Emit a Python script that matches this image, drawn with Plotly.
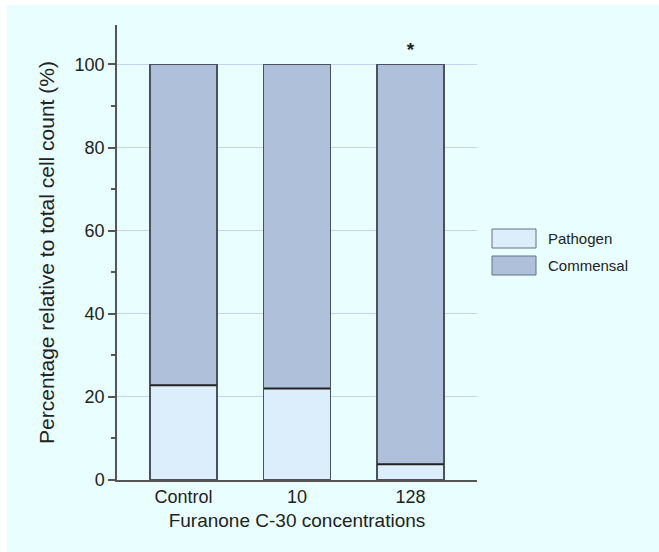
import plotly.graph_objects as go

categories = ["Control", "10", "128"]
pathogen = [22.8, 22.0, 3.8]
commensal = [100 - v for v in pathogen]
series_names = ["Pathogen", "Commensal"]
y_ticks = [0, 20, 40, 60, 80, 100]
sig_category = "128"
sig_value = 103.3

W, H = 659, 552
L, R, T, B = 117, 182, 25, 72
pw, ph = W - L - R, H - T - B

def px_x(x):
    return (x - L) / pw

def px_y(y):
    return (H - B - y) / ph

outline = "#4a5262"
c_path = "#DCEEFB"
c_comm = "#AFC0DA"
bg = "#E9FEFF"
font_fam = "Liberation Sans, Arial, sans-serif"

fig = go.Figure()
fig.add_trace(go.Bar(x=categories, y=pathogen, name=series_names[0], width=0.59,
                     marker=dict(color=c_path, line=dict(color=outline, width=1.3)),
                     showlegend=False))
fig.add_trace(go.Bar(x=categories, y=commensal, name=series_names[1], width=0.59,
                     marker=dict(color=c_comm, line=dict(color=outline, width=1.3)),
                     showlegend=False))
# dark divider between the two stacked segments
fig.add_trace(go.Scatter(x=categories, y=pathogen, mode="markers", showlegend=False,
                         hoverinfo="skip",
                         marker=dict(symbol="line-ew", size=47.5,
                                     line=dict(color="#222", width=2))))

# significance marker
fig.add_trace(go.Scatter(x=[sig_category], y=[sig_value], mode="text", text=["<b>*</b>"],
                         textposition="middle center", showlegend=False, hoverinfo="skip",
                         textfont=dict(size=19, color="#222", family=font_fam)))

shapes = [dict(type="rect", xref="paper", yref="paper", layer="below",
               x0=px_x(7), x1=px_x(W + 5), y0=px_y(H + 5), y1=px_y(5),
               fillcolor=bg, line=dict(width=0))]

# custom legend
leg_items = [(series_names[0], c_path, 229), (series_names[1], c_comm, 256)]
for name, col, top in leg_items:
    shapes.append(dict(type="rect", xref="paper", yref="paper",
                       x0=px_x(492), x1=px_x(536), y0=px_y(top + 19), y1=px_y(top),
                       fillcolor=col, line=dict(color="#6a7080", width=1)))
    fig.add_annotation(xref="paper", yref="paper", x=px_x(546), y=px_y(top + 9.5),
                       text=name, showarrow=False, xanchor="left", yanchor="middle",
                       font=dict(size=15, color="#222", family=font_fam))

fig.update_layout(
    width=W, height=H,
    margin=dict(l=L, r=R, t=T, b=B),
    barmode="stack",
    paper_bgcolor="white",
    plot_bgcolor="rgba(0,0,0,0)",
    shapes=shapes,
    font=dict(family=font_fam, color="#222"),
    showlegend=False,
)
fig.update_xaxes(type="category", range=[-0.586, 2.586], showline=True, linecolor="#555", linewidth=1.5,
                 ticks="", tickfont=dict(size=18), showgrid=False,
                 title=dict(text="Furanone C-30 concentrations", font=dict(size=19), standoff=7))
fig.update_yaxes(range=[0, 109.5], tickvals=y_ticks, showline=True, linecolor="#555",
                 linewidth=1.5, ticks="outside", ticklen=7, tickcolor="#555", tickwidth=1.5,
                 tickfont=dict(size=18), showgrid=True, gridcolor="#C5D3F5", gridwidth=1.2,
                 zeroline=False,
                 minor=dict(ticks="outside", ticklen=4, dtick=10, tickcolor="#555", showgrid=False),
                 title=dict(text="Percentage relative to total cell count (%)", font=dict(size=21), standoff=14))

fig.write_html("out.html", config={"displayModeBar": False},
               post_script="document.body.style.margin='0';")
